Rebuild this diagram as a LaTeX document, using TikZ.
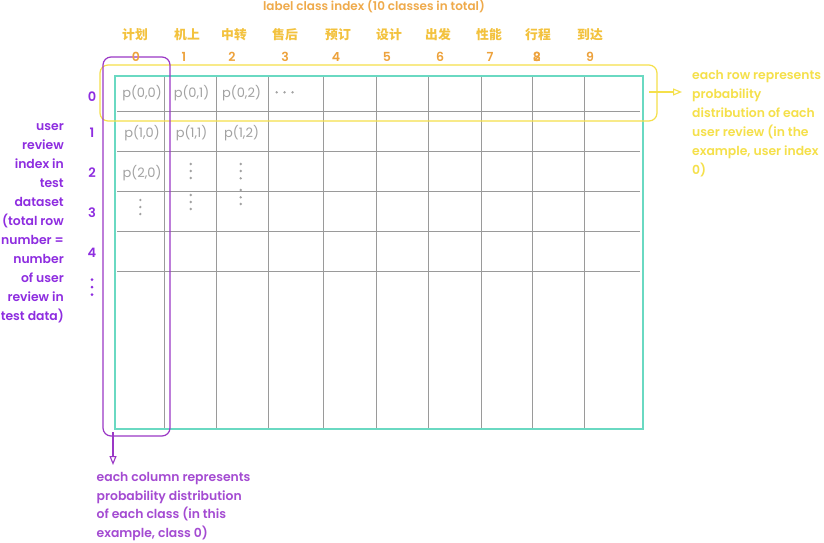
\documentclass[tikz,border=0pt]{standalone}
\usepackage{fontspec}
\setmainfont{Poppins}[BoldFont={* SemiBold}]
\newfontfamily\cjkf{Noto Sans CJK SC}
\usetikzlibrary{arrows.meta}
\definecolor{titlec}{HTML}{EFAA4B}
\definecolor{cjkc}{HTML}{F3C23E}
\definecolor{digc}{HTML}{EDA23C}
\definecolor{yelc}{HTML}{F5E04A}
\definecolor{purc}{HTML}{8E2DE0}
\definecolor{purb}{HTML}{A44BD2}
\definecolor{purr}{HTML}{9B38C6}
\definecolor{tealc}{HTML}{6AD9C2}
\definecolor{grayc}{HTML}{9A9A9A}
\definecolor{cellc}{HTML}{A2A2A2}
\begin{document}
\begin{tikzpicture}[x=1pt,y=-1pt,
  gridline/.style={draw=grayc, line width=1pt},
  cell/.style={text=cellc, font=\fontsize{13}{15}\selectfont, inner sep=0pt, anchor=base},
  dotc/.style={fill=cellc, draw=none},
  cjklab/.style={text=cjkc, font=\cjkf\bfseries\fontsize{12.8}{15}\selectfont, inner sep=0pt, anchor=base},
  diglab/.style={text=digc, font=\bfseries\fontsize{12.5}{15}\selectfont, inner sep=0pt, anchor=base},
  rowlab/.style={text=purc, font=\bfseries\fontsize{13}{15}\selectfont, inner sep=0pt, anchor=base},
  desc/.style={font=\bfseries\fontsize{12.4}{19}\selectfont, inner sep=0pt}
]
\useasboundingbox[fill=white] (0,0) rectangle (824,543);

% grid
\foreach \x in {164,216.5,268.5,323,376.5,428.5,481,532.5,584.5}
  \draw[gridline] (\x,76) -- (\x,429);
\foreach \y in {111,151,191,231,271}
  \draw[gridline] (117,\y) -- (640,\y);
\draw[draw=tealc, line width=2.3pt] (115,76) rectangle (643,429);

% highlight boxes
\node[draw=yelc, line width=1.2pt, rounded corners=8pt, minimum width=557pt, minimum height=56pt, inner sep=0pt] (rowbox) at (378.5,93) {};
\node[draw=purr, line width=1.2pt, rounded corners=8pt, minimum width=67pt, minimum height=379pt, inner sep=0pt] (colbox) at (136.5,246.5) {};

% arrows
\coordinate (ya) at (649,92);
\coordinate (yb) at (682,92);
\draw[yelc, line width=1.1pt, -{Triangle[open,length=9pt,width=7pt]}] (ya) -- (yb);
\coordinate (pa) at (113,432);
\coordinate (pb) at (113,465);
\draw[purr, line width=1.1pt, -{Triangle[open,length=9pt,width=7pt]}] (pa) -- (pb);

% title
\node[text=titlec, font=\bfseries\fontsize{12}{15}\selectfont, inner sep=0pt, anchor=base] (title) at (374,11) {label class index (10 classes in total)};

% column labels
\node[cjklab] (c0) at (135,40) {计划};
\node[cjklab] (c1) at (187,40) {机上};
\node[cjklab] (c2) at (234,40) {中转};
\node[cjklab] (c3) at (285,40) {售后};
\node[cjklab] (c4) at (338,40) {预订};
\node[cjklab] (c5) at (389,40) {设计};
\node[cjklab] (c6) at (438,40) {出发};
\node[cjklab] (c7) at (489,40) {性能};
\node[cjklab] (c8) at (538,40) {行程};
\node[cjklab] (c9) at (590,40) {到达};

\node[diglab] (d0) at (136,61) {0};
\node[diglab] (d1) at (184,61) {1};
\node[diglab] (d2) at (232,61) {2};
\node[diglab] (d3) at (285,61) {3};
\node[diglab] (d4) at (336,61) {4};
\node[diglab] (d5) at (387,61) {5};
\node[diglab] (d6) at (440,61) {6};
\node[diglab] (d7) at (490,61) {7};
\node[diglab] (d8) at (537,61) {8};
\node[diglab] (d8b) at (537,61) {2};
\node[diglab] (d9) at (590,61) {9};

% row labels
\node[rowlab] (r0) at (92,101) {0};
\node[rowlab] (r1) at (92,137) {1};
\node[rowlab] (r2) at (92,177.5) {2};
\node[rowlab] (r3) at (92,217.5) {3};
\node[rowlab] (r4) at (92,257.5) {4};
\foreach \y in {279.5,287,294.5} \fill[purc] (92,\y) circle (1.5pt);

% cells
\node[cell] (p00) at (142,97.5) {p(0,0)};
\node[cell] (p01) at (191.5,97.5) {p(0,1)};
\node[cell] (p02) at (241.5,97.5) {p(0,2)};
\foreach \x in {276.7,284.5,292.5} \fill[cellc] (\x,92.3) circle (1.3pt);
\node[cell] (p10) at (142,137) {p(1,0)};
\node[cell] (p11) at (191.5,137) {p(1,1)};
\node[cell] (p12) at (241.5,137) {p(1,2)};
\node[cell] (p20) at (142,177) {p(2,0)};
\foreach \y in {164,171,178,195,202,209} \fill[cellc] (190.7,\y) circle (1.3pt);
\foreach \y in {164,171,178.3,190,197.3,204} \fill[cellc] (240.7,\y) circle (1.3pt);
\foreach \y in {200,207,214} \fill[cellc] (140.3,\y) circle (1.3pt);

% descriptions (base anchor = last line)
\node[desc, text=purc, align=right, anchor=base east] (ldesc) at (64,320.7)
  {user\\review\\index in\\test\\dataset\\(total row\\number =\\number\\of user\\review in\\test data)};
\node[desc, text=yelc, align=left, anchor=base west] (rdesc) at (692,174.3)
  {each row represents\\probability\\distribution of each\\user review (in the\\example, user index\\0)};
\node[desc, text=purb, align=left, anchor=base west, font=\bfseries\fontsize{12.4}{18.6}\selectfont] (bdesc) at (96.5,537.3)
  {each column represents\\probability distribution\\of each class (in this\\example, class 0)};
\end{tikzpicture}
\end{document}
